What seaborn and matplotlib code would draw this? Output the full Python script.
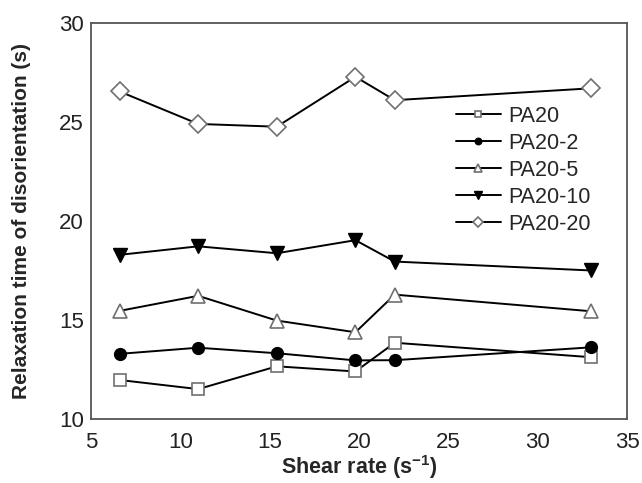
import matplotlib
matplotlib.use("Agg")
import matplotlib.pyplot as plt
import seaborn as sns
import pandas as pd
from matplotlib.ticker import MultipleLocator

sns.set_style("white")
plt.rcParams['font.family'] = ['Liberation Sans', 'DejaVu Sans']
plt.rcParams['mathtext.fontset'] = 'custom'
plt.rcParams['mathtext.rm'] = 'Liberation Sans'
plt.rcParams['mathtext.it'] = 'Liberation Sans:italic'
plt.rcParams['mathtext.bf'] = 'Liberation Sans:bold'

shear_rate = [6.6, 11.0, 15.4, 19.8, 22.0, 33.0]
pa20 = [11.97, 11.51, 12.66, 12.40, 13.85, 13.12]
pa20_2 = [13.29, 13.60, 13.32, 12.96, 12.97, 13.62]
pa20_5 = [15.46, 16.22, 14.97, 14.38, 16.28, 15.44]
pa20_10 = [18.29, 18.72, 18.37, 19.03, 17.95, 17.50]
pa20_20 = [26.54, 24.90, 24.76, 27.28, 26.10, 26.70]

series_names = ["PA20", "PA20-2", "PA20-5", "PA20-10", "PA20-20"]
series_values = [pa20, pa20_2, pa20_5, pa20_10, pa20_20]

rows = []
for name, vals in zip(series_names, series_values):
    for x, y in zip(shear_rate, vals):
        rows.append({"sample": name, "shear": x, "tau": y})
df = pd.DataFrame(rows)

styles = {
    "PA20":    dict(marker="s", mfc="white", mec="#707070", ms=8.5, mew=1.2),
    "PA20-2":  dict(marker="o", mfc="black", mec="black", ms=8.5, mew=1.0),
    "PA20-5":  dict(marker="^", mfc="white", mec="#707070", ms=10.5, mew=1.2),
    "PA20-10": dict(marker="v", mfc="black", mec="black", ms=10.5, mew=1.0),
    "PA20-20": dict(marker="D", mfc="white", mec="#707070", ms=9.5, mew=1.2),
}

fig = plt.figure(figsize=(6.42, 4.83), dpi=100)
ax = fig.add_axes([0.1417, 0.1325, 0.835, 0.82])

for name in series_names:
    sub = df[df["sample"] == name]
    sns.lineplot(data=sub, x="shear", y="tau", ax=ax, color="black",
                 linewidth=1.4, label=name, **styles[name])

ax.set_xlim(5, 35)
ax.set_ylim(10, 30)
ax.xaxis.set_major_locator(MultipleLocator(5))
ax.xaxis.set_minor_locator(MultipleLocator(2.5))
ax.yaxis.set_major_locator(MultipleLocator(5))
ax.yaxis.set_minor_locator(MultipleLocator(2.5))
ax.tick_params(which="both", direction="in", top=False, right=False,
               color="#444444", width=1.2)
ax.tick_params(which="major", length=5, labelsize=16, labelcolor="#222222")
ax.tick_params(axis="x", which="major", pad=9)
ax.tick_params(axis="y", which="major", pad=5)
ax.tick_params(which="minor", length=3)
for s in ax.spines.values():
    s.set_color("#555555")
    s.set_linewidth(1.3)

ax.set_xlabel(r"Shear rate (s$^{\mathbf{-1}}$)", fontsize=15.5, fontweight="bold")
ax.xaxis.label.set_va("top")
ax.xaxis.set_label_coords(0.5, -0.086)
ax.set_ylabel("Relaxation time of disorientation (s)", fontsize=15,
              fontweight="bold")
ax.yaxis.set_label_coords(-0.112, 0.5)

leg = ax.legend(loc="upper left", bbox_to_anchor=(0.66, 0.818), frameon=False,
                fontsize=15.5, handlelength=2.1, markerscale=0.55,
                labelspacing=0.28, handletextpad=0.35, borderpad=0)

fig.savefig("out.png", dpi=100)
